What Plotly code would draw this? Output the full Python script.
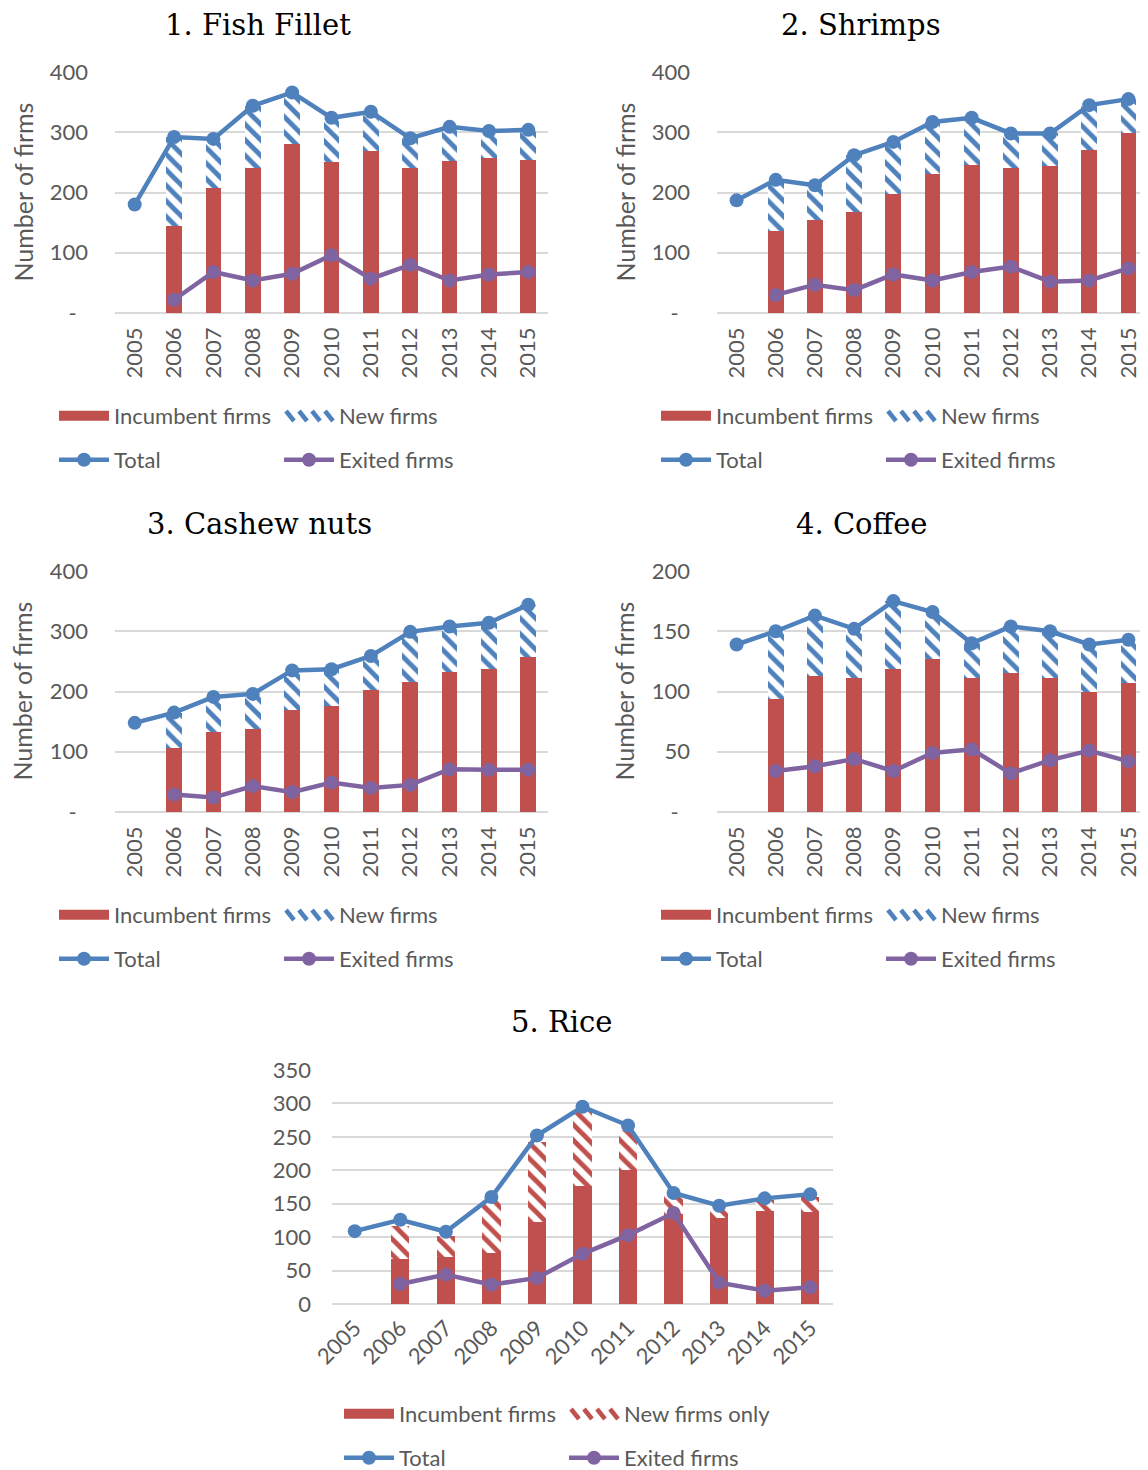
import plotly.graph_objects as go

# the page body adds an 8px margin, so the figure is drawn 8px smaller
# and every reference-pixel position is shifted by that offset
OFF = 8
FW, FH = 1148 - OFF, 1470 - OFF

years = ["2005", "2006", "2007", "2008", "2009", "2010",
         "2011", "2012", "2013", "2014", "2015"]

fish_incumbent = [None, 144, 207, 240, 281, 250, 269, 240, 252, 257, 254]
fish_new = [None, 148, 82, 104, 85, 74, 65, 50, 57, 45, 50]
fish_total = [180, 292, 289, 344, 366, 324, 334, 290, 309, 302, 304]
fish_exited = [None, 22, 68, 54, 65, 96, 57, 80, 54, 64, 68]

shrimp_incumbent = [None, 136, 155, 168, 198, 230, 245, 240, 244, 270, 298]
shrimp_new = [None, 85, 57, 94, 86, 87, 79, 58, 54, 75, 57]
shrimp_total = [187, 221, 212, 262, 284, 317, 324, 298, 298, 345, 355]
shrimp_exited = [None, 30, 47, 38, 64, 54, 68, 77, 52, 54, 74]

cashew_incumbent = [None, 107, 133, 137, 170, 176, 202, 215, 232, 237, 257]
cashew_new = [None, 58, 58, 59, 65, 61, 57, 84, 76, 77, 87]
cashew_total = [148, 165, 191, 196, 235, 237, 259, 299, 308, 314, 344]
cashew_exited = [None, 29, 24, 43, 33, 49, 40, 45, 71, 70, 70]

coffee_incumbent = [None, 94, 113, 111, 119, 127, 111, 115, 111, 100, 107]
coffee_new = [None, 56, 50, 41, 56, 39, 29, 39, 39, 39, 36]
coffee_total = [139, 150, 163, 152, 175, 166, 140, 154, 150, 139, 143]
coffee_exited = [None, 34, 38, 44, 34, 49, 52, 32, 43, 51, 42]

rice_incumbent = [None, 67, 71, 77, 123, 177, 200, 135, 128, 139, 137]
rice_new = [None, 49, 30, 81, 120, 113, 60, 28, 17, 16, 23]
rice_total = [109, 126, 108, 160, 252, 295, 267, 166, 147, 158, 164]
rice_exited = [None, 30, 44, 29, 39, 75, 103, 136, 32, 20, 25]

RED = "#C0504D"
BLUE = "#4F81BD"
PURPLE = "#8064A2"
GRID = "#D9D9D9"
TXT = "#595959"
FONT = "Lato"


def px(x):
    return (x - OFF) / FW


def py(y):
    return 1 - (y - OFF) / FH


# (title, incumbent, new, total, exited, new label, hatch colour,
#  plot box [x0, x1, ytop, ybottom], ymax, dtick, title pos, legend origin)
panels = [
    ("1. Fish Fillet", fish_incumbent, fish_new, fish_total, fish_exited,
     "New firms", BLUE, [115, 548, 72, 313], 400, 100, (258, 25), (54, 416)),
    ("2. Shrimps", shrimp_incumbent, shrimp_new, shrimp_total, shrimp_exited,
     "New firms", BLUE, [717, 1148, 72, 313], 400, 100, (861, 25), (656, 416)),
    ("3. Cashew nuts", cashew_incumbent, cashew_new, cashew_total, cashew_exited,
     "New firms", BLUE, [115, 548, 571, 812], 400, 100, (259, 524), (54, 915)),
    ("4. Coffee", coffee_incumbent, coffee_new, coffee_total, coffee_exited,
     "New firms", BLUE, [717, 1148, 571, 812], 200, 50, (861, 524), (656, 915)),
    ("5. Rice", rice_incumbent, rice_new, rice_total, rice_exited,
     "New firms only", RED, [332, 833, 1070, 1304], 350, 50, (561, 1022), (339, 1414)),
]

fig = go.Figure()
annotations = []
shapes = []
layout = {}

for i, (title, inc, new, tot, ext, new_label, hatch, box, ymax, dtick, tpos, lpos) in enumerate(panels):
    n = i + 1
    sx = "" if n == 1 else str(n)
    xa, ya = "x" + sx, "y" + sx
    leg_a = "legend" if n == 1 else f"legend{2 * n - 1}"
    leg_b = f"legend{2 * n}"

    fig.add_trace(go.Bar(
        x=years, y=inc, name="Incumbent firms", xaxis=xa, yaxis=ya,
        marker=dict(color=RED, line=dict(width=0)), showlegend=False,
    ))
    fig.add_trace(go.Bar(
        x=years, y=new, name=new_label, xaxis=xa, yaxis=ya,
        marker=dict(color="white", line=dict(width=0),
                    pattern=dict(shape="\\", fgcolor=hatch, bgcolor="white",
                                 size=11, solidity=0.45, fillmode="replace")),
        showlegend=False,
    ))
    # legend keys for the two bar series (Excel style wide keys)
    fig.add_trace(go.Scatter(
        x=[None], y=[None], name="Incumbent firms", xaxis=xa, yaxis=ya,
        mode="lines", line=dict(width=12, color=RED), legend=leg_a,
    ))
    fig.add_trace(go.Scatter(
        x=[None], y=[None], name=new_label, xaxis=xa, yaxis=ya,
        mode="lines", line=dict(width=0, color="rgba(0,0,0,0)"), legend=leg_a,
    ))
    fig.add_trace(go.Scatter(
        x=years, y=tot, name="Total", xaxis=xa, yaxis=ya, mode="lines+markers",
        line=dict(color=BLUE, width=4.5), marker=dict(size=14, color=BLUE),
        cliponaxis=False, legend=leg_b,
    ))
    fig.add_trace(go.Scatter(
        x=years, y=ext, name="Exited firms", xaxis=xa, yaxis=ya, mode="lines+markers",
        line=dict(color=PURPLE, width=4.5), marker=dict(size=14, color=PURPLE),
        cliponaxis=False, legend=leg_b,
    ))

    x0, x1, ytop, ybot = box
    rice = n == 5
    tickvals = list(range(0, ymax + 1, dtick))
    ticktext = [("0" if rice else "-  ") if v == 0 else str(v) for v in tickvals]

    layout["xaxis" + sx] = dict(
        domain=[px(x0), min(px(x1), 1)], anchor=ya, type="category",
        range=[-0.5, 10.5], showgrid=False, showline=False, zeroline=False,
        tickangle=-45 if rice else -90, ticks="", automargin=False,
        tickfont=dict(family=FONT, size=22, color=TXT),
        ticklabelstandoff=6 if rice else 9,
    )
    layout["yaxis" + sx] = dict(
        domain=[py(ybot), py(ytop)], anchor=xa, range=[0, ymax],
        tickvals=tickvals, ticktext=ticktext, showgrid=True, gridcolor=GRID,
        gridwidth=1.5, zeroline=True, zerolinecolor=GRID, zerolinewidth=1.5,
        showline=False, ticks="", automargin=False,
        ticklabelstandoff=20 if rice else 26,
        tickfont=dict(family=FONT, size=22, color=TXT),
    )

    annotations.append(dict(
        text=title, x=px(tpos[0]), y=py(tpos[1]), xref="paper", yref="paper",
        showarrow=False, xanchor="center", yanchor="middle",
        font=dict(family="DejaVu Serif", size=29, color="black"),
    ))
    if not rice:
        annotations.append(dict(
            text="Number of firms", x=px(x0 - 93), y=py((ytop + ybot) / 2),
            xref="paper", yref="paper", showarrow=False, textangle=-90,
            xanchor="center", yanchor="middle",
            font=dict(family=FONT, size=25, color=TXT),
        ))

    # hatched key for the "new firms" entry
    key_x = lpos[0] + 229
    for k in range(4):
        xs = key_x + 3 + 13 * k
        shapes.append(dict(
            type="line", xref="paper", yref="paper",
            x0=px(xs), y0=py(lpos[1] - 5), x1=px(xs + 8), y1=py(lpos[1] + 5),
            line=dict(color=hatch, width=4.5),
        ))

    legend_common = dict(
        orientation="h", xanchor="left", yanchor="middle",
        font=dict(family=FONT, size=22, color=TXT),
        bgcolor="rgba(0,0,0,0)", entrywidth=160, entrywidthmode="pixels",
        itemwidth=50, traceorder="normal",
    )
    layout[leg_a] = dict(legend_common, x=px(lpos[0]), y=py(lpos[1]))
    layout[leg_b] = dict(legend_common, x=px(lpos[0]), y=py(lpos[1] + 44))

fig.update_layout(
    width=FW, height=FH, margin=dict(l=0, r=0, t=0, b=0, autoexpand=False),
    paper_bgcolor="white", plot_bgcolor="white",
    barmode="stack", bargap=0.6, showlegend=True,
    annotations=annotations, shapes=shapes,
    **layout,
)

fig.write_html("out.html")
